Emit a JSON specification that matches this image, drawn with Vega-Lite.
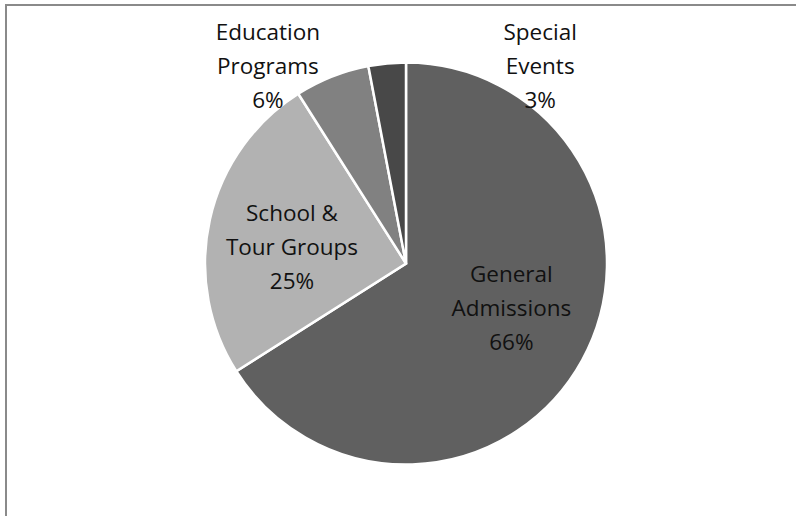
{
  "$schema": "https://vega.github.io/schema/vega-lite/v6.json",
  "autosize": "none",
  "width": 790,
  "height": 511,
  "padding": {"left": 6, "top": 5, "right": 0, "bottom": 0},
  "background": "white",
  "view": {"stroke": "#8a8a8a", "strokeWidth": 2, "strokeDash": [791, 1300, 512], "strokeDashOffset": 0},
  "data": {"values": [
    {"category": "General Admissions", "value": 66, "label": "General\nAdmissions\n66%"},
    {"category": "School & Tour Groups", "value": 25, "label": "School &\nTour Groups\n25%"},
    {"category": "Education Programs", "value": 6, "label": "Education\nPrograms\n6%"},
    {"category": "Special Events", "value": 3, "label": "Special\nEvents\n3%"}
  ]},
  "encoding": {
    "theta": {"field": "value", "type": "quantitative", "stack": true},
    "order": {"field": "value", "type": "quantitative", "sort": "descending"}
  },
  "layer": [
    {
      "mark": {"type": "arc", "outerRadius": 201, "xOffset": 5, "yOffset": 3, "stroke": "white", "strokeWidth": 2.5},
      "encoding": {
        "color": {"field": "category", "type": "nominal", "legend": null,
          "scale": {"domain": ["General Admissions", "School & Tour Groups", "Education Programs", "Special Events"],
                    "range": ["#606060", "#b2b2b2", "#818181", "#484848"]}}
      }
    },
    {
      "mark": {"type": "text", "radius": 115, "thetaOffset": -0.09, "xOffset": 5, "yOffset": 3, "dy": -35, "lineBreak": "\n", "font": "Open Sans", "fontSize": 22.5, "lineHeight": 34, "color": "#111"},
      "encoding": {"text": {"condition": {"test": "datum.value > 10", "field": "label"}, "value": ""}}
    },
    {
      "mark": {"type": "text", "radius": 240, "thetaOffset": -0.236, "xOffset": 5, "yOffset": 3, "dy": -34, "lineBreak": "\n", "font": "Open Sans", "fontSize": 22.5, "lineHeight": 34, "color": "#111"},
      "encoding": {"text": {"condition": {"test": "datum.category === 'Education Programs'", "field": "label"}, "value": ""}}
    },
    {
      "mark": {"type": "text", "radius": 238, "thetaOffset": 0.693, "xOffset": 5, "yOffset": 3, "dy": -34, "lineBreak": "\n", "font": "Open Sans", "fontSize": 22.5, "lineHeight": 34, "color": "#111"},
      "encoding": {"text": {"condition": {"test": "datum.category === 'Special Events'", "field": "label"}, "value": ""}}
    }
  ]
}
